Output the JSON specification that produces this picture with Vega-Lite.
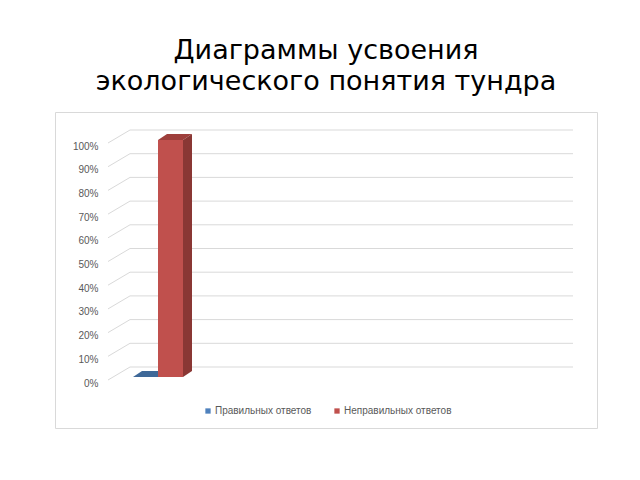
{
  "$schema": "https://vega.github.io/schema/vega-lite/v6.json",
  "autosize": "none",
  "width": 542,
  "height": 316,
  "padding": {"left": 55, "top": 112, "right": 43, "bottom": 52},
  "background": "white",
  "title": {
    "text": ["Диаграммы усвоения", "экологического понятия тундра"],
    "font": "DejaVu Sans",
    "fontSize": 27,
    "fontWeight": "normal",
    "color": "#000000",
    "lineHeight": 31,
    "anchor": "middle",
    "frame": "group",
    "offset": 16
  },
  "datasets": {
    "bars": [
      {"category": "тундра", "series": "Правильных ответов", "value": 0},
      {"category": "тундра", "series": "Неправильных ответов", "value": 1}
    ],
    "grid": [
      {"value": 0}, {"value": 0.1}, {"value": 0.2}, {"value": 0.3}, {"value": 0.4},
      {"value": 0.5}, {"value": 0.6}, {"value": 0.7}, {"value": 0.8}, {"value": 0.9},
      {"value": 1}
    ]
  },
  "encoding": {
    "y": {
      "field": "value",
      "type": "quantitative",
      "scale": {"domain": [0, 1], "range": [265, 28], "nice": false},
      "axis": {
        "title": null,
        "values": [0, 0.1, 0.2, 0.3, 0.4, 0.5, 0.6, 0.7, 0.8, 0.9, 1],
        "tickCount": 11,
        "format": ".0%",
        "domain": false,
        "ticks": false,
        "grid": false,
        "offset": -43,
        "labelPadding": 0,
        "labelOffset": 6,
        "labelOverlap": false,
        "labelFont": "Liberation Sans",
        "labelFontSize": 10,
        "labelColor": "#595959"
      }
    }
  },
  "layer": [
    {
      "data": {"name": "grid"},
      "layer": [
        {
          "mark": {"type": "rule", "color": "#d9d9d9", "strokeWidth": 1, "yOffset": -10},
          "encoding": {
            "x": {"datum": 0, "type": "quantitative", "scale": {"domain": [0, 1], "range": [75, 518]}, "axis": null},
            "x2": {"datum": 1}
          }
        },
        {
          "mark": {"type": "rule", "color": "#d9d9d9", "strokeWidth": 1, "xOffset": -22, "yOffset": 3, "y2Offset": -10},
          "encoding": {
            "x": {"datum": 0, "type": "quantitative", "axis": null},
            "x2": {"datum": 0},
            "y2": {"field": "value"}
          }
        }
      ]
    },
    {
      "data": {"name": "bars"},
      "encoding": {
        "x": {
          "field": "series",
          "type": "nominal",
          "sort": null,
          "scale": {"domain": ["Правильных ответов", "Неправильных ответов"], "range": [78, 128], "paddingInner": 0, "paddingOuter": 0},
          "axis": null
        }
      },
      "layer": [
        {
          "mark": {"type": "point", "filled": true, "opacity": 1, "size": 4, "strokeWidth": 0, "shape": "M-12.5,0 L12.5,0 L21.5,-6 L-3.5,-6 Z"},
          "encoding": {
            "fill": {"condition": {"test": "datum.series === 'Неправильных ответов'", "value": "#9e3f3c"}, "value": "#3e6898"}
          }
        },
        {
          "mark": {"type": "bar"},
          "encoding": {
            "y2": {"datum": 0},
            "color": {
              "field": "series",
              "type": "nominal",
              "scale": {"domain": ["Правильных ответов", "Неправильных ответов"], "range": ["#4f81bd", "#c0504d"]},
              "legend": {
                "title": null,
                "orient": "none",
                "legendX": 148,
                "legendY": 294,
                "direction": "horizontal",
                "symbolType": "square",
                "symbolSize": 28,
                "symbolStrokeWidth": 0,
                "labelOffset": 2,
                "columnPadding": 20,
                "labelFont": "Liberation Sans",
                "labelFontSize": 10,
                "labelColor": "#595959"
              }
            }
          }
        },
        {
          "transform": [{"filter": "datum.value > 0"}],
          "mark": {"type": "point", "filled": true, "opacity": 1, "size": 4, "strokeWidth": 0, "color": "#8a3734", "shape": "M12.5,0 L21.5,-6 L21.5,231 L12.5,237 Z"}
        }
      ]
    }
  ],
  "resolve": {"scale": {"x": "independent"}},
  "config": {
    "view": {"stroke": "#d9d9d9", "strokeWidth": 1}
  }
}
